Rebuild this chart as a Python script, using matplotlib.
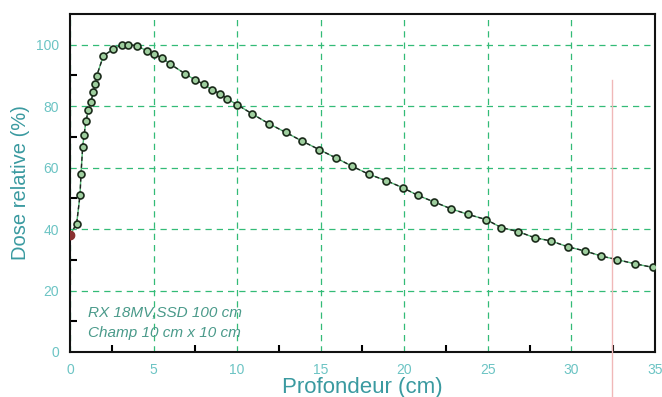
import numpy as np
import matplotlib
matplotlib.use("Agg")
import matplotlib.pyplot as plt
from matplotlib.lines import Line2D

plt.rcParams['font.family'] = ['Liberation Sans', 'DejaVu Sans']

# Rendement en profondeur (RX 18MV)
profondeur = [0.0, 0.4, 0.6, 0.66, 0.76, 0.84, 0.96, 1.1, 1.24, 1.4, 1.5, 1.6,
              2.0, 2.6, 3.1, 3.5, 4.0, 4.6, 5.0, 5.5, 6.0, 6.9, 7.5, 8.0, 8.5,
              9.0, 9.4, 10.0, 10.9, 11.9, 12.9, 13.9, 14.9, 15.9, 16.9, 17.9,
              18.9, 19.9, 20.8, 21.8, 22.8, 23.8, 24.9, 25.8, 26.8, 27.8, 28.8,
              29.8, 30.8, 31.8, 32.7, 33.8, 34.9]
dose = [38.0, 41.8, 51.0, 58.0, 66.7, 70.5, 75.3, 78.6, 81.3, 84.5, 87.2, 89.9,
        96.4, 98.6, 100.0, 100.0, 99.7, 98.0, 97.0, 95.7, 93.7, 90.5, 88.5, 87.2,
        85.3, 84.0, 82.4, 80.5, 77.5, 74.3, 71.5, 68.6, 65.9, 63.2, 60.4, 57.8,
        55.8, 53.5, 51.0, 48.8, 46.6, 44.8, 43.1, 40.5, 39.2, 37.2, 36.1,
        34.2, 32.9, 31.2, 30.1, 28.7, 27.5]

x_ticks = [0, 5, 10, 15, 20, 25, 30, 35]
y_ticks = [0, 20, 40, 60, 80, 100]

fig = plt.figure(figsize=(6.62, 3.97), dpi=100)
ax = fig.add_axes([0.1057, 0.1134, 0.8837, 0.8513])

ax.plot(profondeur, dose, color='#55bb77', linewidth=1.0, zorder=2)
ax.plot(profondeur, dose, color='#222222', linestyle=(0, (3, 2)), linewidth=1.0,
        marker='o', markersize=5, markerfacecolor='#9fcf9f',
        markeredgecolor='#1a2a1a', markeredgewidth=1.2, zorder=3)
ax.plot(profondeur[:1], dose[:1], marker='o', markersize=6, color='#8a3030', zorder=4)

ax.set_xlim(0, 35)
ax.set_ylim(0, 110)
ax.set_xticks(x_ticks)
ax.set_yticks(y_ticks)
ax.set_xticks(np.arange(2.5, 35, 5), minor=True)
ax.set_yticks(np.arange(10, 110, 20), minor=True)

ax.grid(True, which='major', color='#33bb77', linestyle=(0, (5, 4)), linewidth=0.9)
ax.tick_params(which='both', direction='in', color='black', width=1.5)
ax.tick_params(which='major', length=0, labelsize=10, labelcolor='#6cc4c4', pad=8)
ax.tick_params(which='minor', length=5)

for s in ax.spines.values():
    s.set_linewidth(1.5)
    s.set_color('#111111')

ax.set_xlabel('Profondeur (cm)', fontsize=16, color='#3a9aa0', labelpad=0)
ax.set_ylabel('Dose relative (%)', fontsize=14.5, color='#3a9aa0', labelpad=4)

ax.text(1.1, 11.5, 'RX 18MV,SSD 100 cm', fontsize=11, style='italic', color='#4a9a8a')
ax.text(1.1, 5.0, 'Champ 10 cm x 10 cm', fontsize=11, style='italic', color='#4a9a8a')

# trait parasite du scan
fig.add_artist(Line2D([0.9245, 0.9245], [0.0, 0.798], color='#f0b8b8', linewidth=1.0))

fig.savefig('out.png', dpi=100)
